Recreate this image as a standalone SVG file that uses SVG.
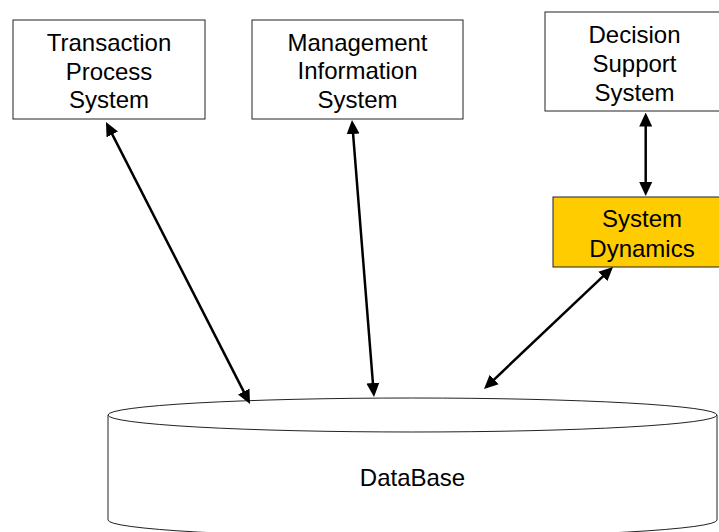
<svg xmlns="http://www.w3.org/2000/svg" width="719" height="532" viewBox="0 0 719 532">
  <style>
    .box { fill: #ffffff; stroke: #222222; stroke-width: 1; }
    .hot { fill: #ffcc00; }
    .lbl { font-family: "Liberation Sans", Arial, Helvetica, sans-serif; font-size: 24px; fill: #000000; text-anchor: middle; }
    .link { stroke: #000000; stroke-width: 2.5; fill: none; marker-start: url(#head); marker-end: url(#head); }
  </style>
  <defs>
    <marker id="head" markerUnits="userSpaceOnUse" markerWidth="14" markerHeight="14" refX="10" refY="7" orient="auto-start-reverse">
      <path d="M0,0.5 L14,7 L0,13.5 z" fill="#000000"/>
    </marker>
  </defs>

  <rect width="719" height="532" fill="#ffffff"/>

  <!-- database cylinder -->
  <g id="database">
    <path class="box" d="M108,415 L108,520 A304.5,17 0 0 0 717,520 L717,415"/>
    <ellipse class="box" cx="412.5" cy="415" rx="304.5" ry="17"/>
    <text class="lbl" x="412.5" y="486">DataBase</text>
  </g>

  <g id="tps">
    <rect class="box" x="13" y="20" width="192" height="99"/>
    <text class="lbl" x="109" y="51">Transaction</text>
    <text class="lbl" x="109" y="79.5">Process</text>
    <text class="lbl" x="109" y="108">System</text>
  </g>

  <g id="mis">
    <rect class="box" x="252" y="20" width="211" height="99"/>
    <text class="lbl" x="357.5" y="50.5">Management</text>
    <text class="lbl" x="357.5" y="79">Information</text>
    <text class="lbl" x="357.5" y="108">System</text>
  </g>

  <g id="dss">
    <rect class="box" x="545" y="12" width="179" height="99"/>
    <text class="lbl" x="634.5" y="43">Decision</text>
    <text class="lbl" x="634.5" y="72">Support</text>
    <text class="lbl" x="634.5" y="101">System</text>
  </g>

  <g id="sd">
    <rect class="box hot" x="553" y="197" width="178" height="70"/>
    <text class="lbl" x="642" y="227">System</text>
    <text class="lbl" x="642" y="257">Dynamics</text>
  </g>

  <!-- two-way links -->
  <g id="connectors">
    <path class="link" d="M107.8,125.6 L248.2,400.4"/>
    <path class="link" d="M352.3,124 L373.7,393"/>
    <path class="link" d="M610.1,269.7 L486.9,386.3"/>
    <path class="link" d="M645.7,116.5 L645.7,192"/>
  </g>
</svg>
